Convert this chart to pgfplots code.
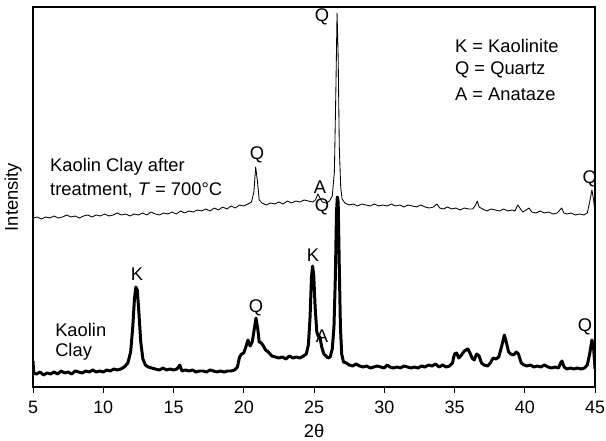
\documentclass[border=0pt]{standalone}
\usepackage{pgfplots}
\pgfplotsset{compat=1.18}
\usepackage{pgfplotstable}
\usepackage{fontspec}
\setmainfont{Liberation Sans}
\pgfplotstableread{
x y
5.00 185
5.06 169
5.3 170
5.6 168
5.9 170
6.2 169
6.5 171
6.8 169
7.1 170
7.4 172
7.7 170
8.0 171
8.3 169
8.6 171
8.9 172
9.2 170
9.5 172
9.8 171
10.1 173
10.4 171
10.7 172
11.0 174
11.3 172
11.6 173
11.9 171
12.2 173
12.5 172
12.8 174
13.1 172
13.4 175
13.7 173
14.0 172
14.3 174
14.6 173
14.9 175
15.2 173
15.5 176
15.8 174
16.1 176
16.4 175
16.7 177
17.0 176
17.3 178
17.6 176
17.9 179
18.2 177
18.5 180
18.8 178
19.1 181
19.4 179
19.7 182
20.0 181
20.3 183
20.55 185
20.72 195
20.85 220
20.98 205
21.1 187
21.3 184
21.6 182
21.9 184
22.2 183
22.5 185
22.8 183
23.1 186
23.4 184
23.7 186
24.0 185
24.3 187
24.6 186
24.9 185
25.1 187
25.28 193
25.42 189
25.6 185
25.85 184
26.1 186
26.3 191
26.45 215
26.56 300
26.64 374
26.72 330
26.8 240
26.9 200
27.0 188
27.2 184
27.5 182
27.8 183
28.1 181
28.4 183
28.7 182
29.0 181
29.3 183
29.6 181
29.9 182
30.2 181
30.5 183
30.8 181
31.1 182
31.4 180
31.7 182
32.0 181
32.3 180
32.6 182
32.9 180
33.2 179
33.5 180
33.75 183
33.95 179
34.2 178
34.5 180
34.8 178
35.1 179
35.4 177
35.7 179
36.0 178
36.3 178
36.5 182
36.62 186
36.75 180
37.0 178
37.3 176
37.6 178
37.9 177
38.2 176
38.5 178
38.8 176
39.1 177
39.3 176
39.5 182
39.65 179
39.85 175
40.1 177
40.3 179
40.5 175
40.8 174
41.1 176
41.4 174
41.7 175
42.0 173
42.3 174
42.5 177
42.63 179
42.78 174
43.0 173
43.3 174
43.6 172
43.9 173
44.2 172
44.45 174
44.62 185
44.78 197
44.9 187
45.0 175
}\upperdata
\pgfplotstableread{
x y
5.00 26
5.05 14
5.25 13
5.5 15
5.75 12
6.0 14
6.25 13
6.5 15
6.75 13
7.0 16
7.25 14
7.5 15
7.75 13
8.0 16
8.25 15
8.5 14
8.75 16
9.0 15
9.25 17
9.5 15
9.75 16
10.0 15
10.25 17
10.5 16
10.75 18
11.0 17
11.25 18
11.5 20
11.75 24
11.95 35
12.1 60
12.22 88
12.32 100
12.42 97
12.52 78
12.67 45
12.82 28
13.0 22
13.2 20
13.45 19
13.7 18
14.0 17
14.25 19
14.5 17
14.75 18
15.0 17
15.25 18
15.45 22
15.6 16
15.85 17
16.1 16
16.35 17
16.6 15
16.85 16
17.1 16
17.35 15
17.6 17
17.85 16
18.1 15
18.35 16
18.6 15
18.85 16
19.1 16
19.35 17
19.55 20
19.7 30
19.85 33
20.0 34
20.15 40
20.3 47
20.45 41
20.6 45
20.75 58
20.87 69
21.0 58
21.1 45
21.25 44
21.4 41
21.55 37
21.75 35
22.0 31
22.25 30
22.5 29
22.75 30
23.0 28
23.25 31
23.5 29
23.75 30
24.0 29
24.25 31
24.45 33
24.6 42
24.72 70
24.82 110
24.9 121
24.98 112
25.08 80
25.2 55
25.3 51
25.42 50
25.55 40
25.7 33
25.85 31
26.0 29
26.15 30
26.3 38
26.42 60
26.52 110
26.6 175
26.66 190
26.72 185
26.8 120
26.88 60
26.97 33
27.1 25
27.3 24
27.5 22
27.75 21
28.0 23
28.25 21
28.5 20
28.75 21
29.0 19
29.25 20
29.5 21
29.75 20
30.0 19
30.2 22
30.4 20
30.65 19
30.9 20
31.15 19
31.4 21
31.65 20
31.9 19
32.15 20
32.4 19
32.65 21
32.9 20
33.15 22
33.4 21
33.65 23
33.9 20
34.15 22
34.4 20
34.65 21
34.85 24
35.0 33
35.15 34
35.3 29
35.5 32
35.7 36
35.95 38
36.1 34
36.25 29
36.4 27
36.58 33
36.75 31
36.92 24
37.1 22
37.35 21
37.55 24
37.75 29
37.95 28
38.15 30
38.38 42
38.55 52
38.7 44
38.85 35
39.0 33
39.2 32
39.4 35
39.55 33
39.75 24
39.95 22
40.15 21
40.4 22
40.65 20
40.9 21
41.15 20
41.4 22
41.65 20
41.9 19
42.15 20
42.4 19
42.55 24
42.65 26
42.8 20
43.0 18
43.25 19
43.5 18
43.75 19
44.0 18
44.25 19
44.45 22
44.62 33
44.78 47
44.88 43
44.97 25
45.0 18
}\lowerdata
\begin{document}
\begin{tikzpicture}[x=1bp,y=1bp]
\path[use as bounding box] (-33,-54) rectangle (573,387);
\fontsize{18.4}{21}\selectfont
\begin{axis}[
  at={(0,0)}, anchor=south west,
  scale only axis, width=562bp, height=380bp,
  xmin=5, xmax=45, ymin=0, ymax=380,
  xtick={5,10,...,45},
  ytick=\empty,
  tick align=outside,
  xtick pos=bottom,
  major tick length=6bp,
  axis line style={line width=1.1pt},
  tick style={line width=1pt, black},
  /pgf/number format/assume math mode=true,
  ticklabel style={font=\fontsize{18}{21}\selectfont, yshift=-2bp},
  xlabel={2θ},
  ylabel={Intensity},
  xlabel style={at={(axis description cs:0.5,0)}, anchor=north, yshift=-37bp, inner sep=0pt, font=\fontsize{18.4}{21}\selectfont},
  ylabel style={at={(axis description cs:0,0.5)}, anchor=south, yshift=11bp, inner sep=0pt, font=\fontsize{18.4}{21}\selectfont},
]
\addplot[black, line width=0.85pt, line join=round] table[x=x,y=y] {\upperdata};
\addplot[black, line width=3pt, line join=round] table[x=x,y=y] {\lowerdata};
\begin{scope}[every node/.style={font=\fontsize{18.4}{21}\selectfont, inner sep=0pt}]
\node at (axis cs:25.57,370) {Q};
\node[anchor=west] at (axis cs:35.03,341) {K = Kaolinite};
\node[anchor=west] at (axis cs:35.03,317) {Q = Quartz};
\node[anchor=west] at (axis cs:35.03,293) {A = Anataze};
\node[anchor=west] at (axis cs:6.21,220) {Kaolin Clay after};
\node[anchor=west] at (axis cs:6.21,197) {treatment, \textit{T} = 700°C};
\node at (axis cs:20.94,232) {Q};
\node at (axis cs:25.43,200) {A};
\node at (axis cs:44.62,208) {Q};
\node at (axis cs:25.57,180) {Q};
\node at (axis cs:12.40,113) {K};
\node at (axis cs:20.87,79) {Q};
\node at (axis cs:24.93,132) {K};
\node at (axis cs:25.57,51) {A};
\node at (axis cs:44.29,60) {Q};
\node[anchor=west] at (axis cs:6.57,57) {Kaolin};
\node[anchor=west] at (axis cs:6.57,35) {Clay};
\end{scope}
\end{axis}
\end{tikzpicture}
\end{document}
